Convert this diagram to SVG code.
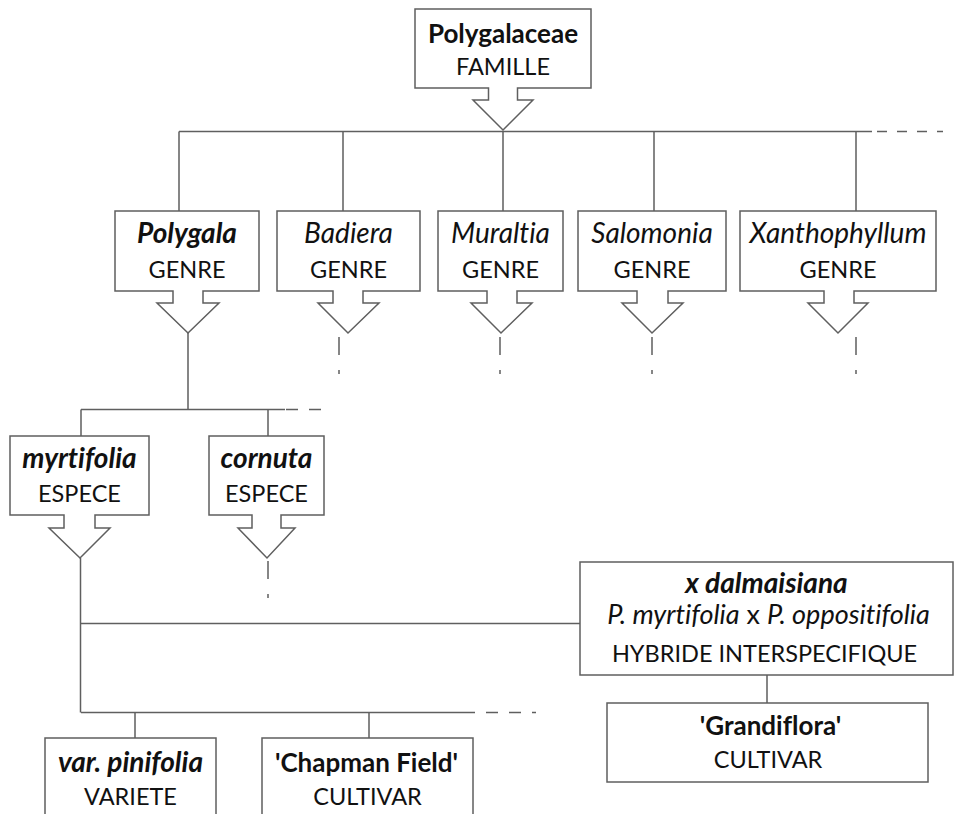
<svg xmlns="http://www.w3.org/2000/svg" width="955" height="814" viewBox="0 0 955 814">
<style>
.box{fill:#fff;stroke:#5f5f5f;stroke-width:1.5}
.ln{fill:none;stroke:#5f5f5f;stroke-width:1.5}
.dsh{fill:none;stroke:#5f5f5f;stroke-width:1.5;stroke-dasharray:12 11}
.dv{fill:none;stroke:#5f5f5f;stroke-width:1.5;stroke-dasharray:18 15 4 30}
text{font-family:Lato,"Open Sans",sans-serif;font-size:23.5px;fill:#111;text-anchor:middle;font-variant-ligatures:none}
.b{font-weight:bold;font-size:26px}
.i{font-style:italic;font-size:28px}
.bi{font-weight:bold;font-style:italic;font-size:28px}
.it{font-style:italic}
</style>
<g id="connectors">
<path class="ln" d="M179 131.5H872M179 131.5V211M343 131.5V211M503 131.5V211M654 131.5V211M856 131.5V211"/>
<path class="dsh" d="M877 131.5H943" style="stroke-dasharray:10 10"/>
<path class="ln" d="M188 333V409.5M81 409.5H285M81 409.5V436M268 409.5V436"/>
<path class="dsh" d="M286 409.5H322"/>
<path class="dv" d="M339 337V380M500 337V380M652 337V380M856 337V380"/>
<path class="dv" d="M268 561V604"/>
<path class="ln" d="M80.5 558V712.5M81 623.5H580M81 712.5H475M135 712.5V738M369 712.5V738M767 675V703"/>
<path class="dsh" d="M486 712.5H536"/>
</g>
<g id="famille">
<path class="box" d="M415 9H591V88H517.5V100H533L503 130L473 100H488.5V88H415Z"/>
<text x="503" y="43" class="b">Polygalaceae</text>
<text x="503" y="75">FAMILLE</text>
</g>
<g id="polygala">
<path class="box" d="M115 211H259V291H203V303H219L188 333L157 303H173V291H115Z"/>
<text x="187" y="243" class="bi">Polygala</text>
<text x="187" y="278">GENRE</text>
</g>
<g id="badiera">
<path class="box" d="M277 211H420V291H363V303H379L348 333L318 303H333V291H277Z"/>
<text x="348.5" y="243" class="i">Badiera</text>
<text x="348.5" y="278">GENRE</text>
</g>
<g id="muraltia">
<path class="box" d="M438 211H563V291H517V303H532L501 333L471 303H487V291H438Z"/>
<text x="500.5" y="243" class="i">Muraltia</text>
<text x="500.5" y="278">GENRE</text>
</g>
<g id="salomonia">
<path class="box" d="M578 211H726V291H668V303H683L652 333L622 303H637V291H578Z"/>
<text x="652" y="243" class="i">Salomonia</text>
<text x="652" y="278">GENRE</text>
</g>
<g id="xanthophyllum">
<path class="box" d="M740 211H936V291H854V303H868L838 333L808 303H824V291H740Z"/>
<text x="838" y="243" class="i">Xanthophyllum</text>
<text x="838" y="278">GENRE</text>
</g>
<g id="myrtifolia">
<path class="box" d="M10 436H149V515H95V528H110L80 558L49 528H64V515H10Z"/>
<text x="79.5" y="468" class="bi">myrtifolia</text>
<text x="79.5" y="502">ESPECE</text>
</g>
<g id="cornuta">
<path class="box" d="M209 436H324V515H281V528H295L267 558L238 528H252V515H209Z"/>
<text x="266.5" y="468" class="bi">cornuta</text>
<text x="266.5" y="502">ESPECE</text>
</g>
<g id="dalmaisiana">
<rect class="box" x="580" y="562" width="373" height="113"/>
<text x="766.5" y="593" class="bi">x dalmaisiana</text>
<text x="768.5" y="624" style="font-size:27px"><tspan class="it">P. myrtifolia</tspan> x <tspan class="it">P. oppositifolia</tspan></text>
<text x="764.5" y="662">HYBRIDE INTERSPECIFIQUE</text>
</g>
<g id="grandiflora">
<rect class="box" x="607" y="703" width="321" height="79"/>
<text x="770.5" y="735" class="b">'Grandiflora'</text>
<text x="768" y="768">CULTIVAR</text>
</g>
<g id="pinifolia">
<rect class="box" x="45" y="738" width="171" height="90"/>
<text x="130.5" y="772" class="bi">var. pinifolia</text>
<text x="130.5" y="805">VARIETE</text>
</g>
<g id="chapman">
<rect class="box" x="262" y="738" width="211" height="90"/>
<text x="366.5" y="772" class="b">'Chapman Field'</text>
<text x="367.5" y="805">CULTIVAR</text>
</g>
</svg>
